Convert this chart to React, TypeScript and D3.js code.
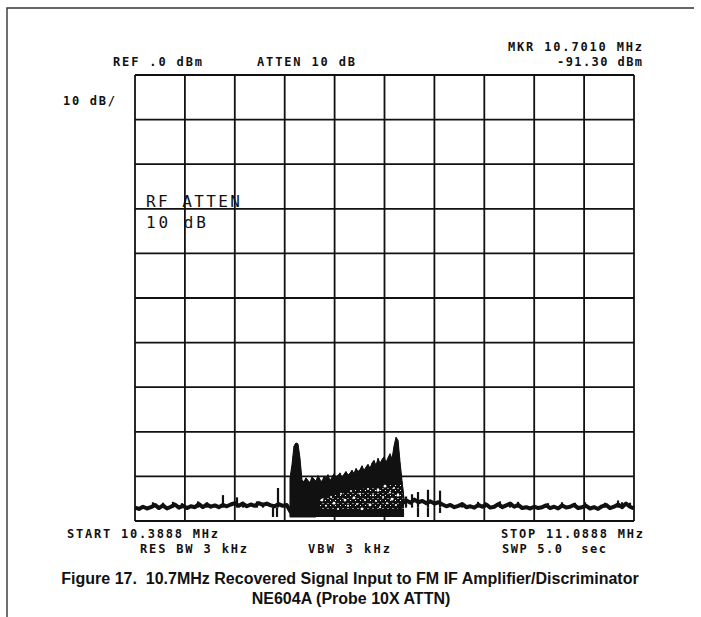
import React from 'react';
import * as d3 from 'd3';

// Sweep settings of the analyzer display
const START_MHZ = 10.3888;
const STOP_MHZ = 11.0888;
const REF_DBM = 0;
const DB_PER_DIV = 10;
const DIVISIONS = 10;

// Noise floor trace, uniformly spaced across the sweep (dBm)
const NOISE_DBM = [
  -97.0, -97.3, -96.8, -97.2, -96.9, -96.4, -97.1, -96.5, -97.2, -96.8,
  -96.3, -97.0, -96.6, -97.1, -96.7, -96.9, -96.2, -96.9, -96.3, -96.8,
  -96.5, -96.9, -96.4, -96.7, -96.3, -96.0, -96.6, -96.1, -96.7, -96.3,
  -96.6, -96.0, -96.4, -96.1, -96.5, -96.7, -96.2, -96.6, -96.4, -98.0,
  -98.0, -98.0, -98.0, -98.0, -98.0, -98.0, -98.0, -98.0, -98.0, -98.0,
  -98.0, -98.0, -98.0, -98.0, -98.0, -98.0, -98.0, -98.0, -98.0, -98.0,
  -98.0, -98.0, -98.0, -98.0, -98.0, -98.0, -98.0, -96.0, -95.4, -95.9,
  -95.2, -95.8, -95.5, -96.0, -95.6, -96.1, -95.8, -96.3, -96.7, -96.4,
  -96.9, -96.6, -96.2, -96.9, -96.7, -97.0, -96.4, -96.8, -96.3, -97.0,
  -96.8, -96.2, -96.9, -96.5, -96.1, -96.8, -96.4, -97.1, -96.9, -97.2,
  -96.8, -97.1, -96.9, -96.5, -97.1, -96.8, -97.2, -96.5, -97.0, -96.8,
  -96.4, -97.1, -96.9, -96.6, -97.2, -96.9, -97.3, -96.7, -96.4, -97.1,
  -96.8, -96.3, -96.9, -96.1, -96.8, -97.2,
];
const NOISE_LEVEL_DBM = -97.0;

// Narrow glitches on the trace: [MHz, dBm]
const NOISE_SPIKES: [number, number][] = [
  [10.4140, -95.8], [10.4281, -95.9], [10.4421, -95.7], [10.4547, -96.0],
  [10.4772, -95.6], [10.4898, -95.8], [10.5122, -94.2], [10.5319, -94.7],
  [10.5403, -95.7], [10.5599, -95.6], [10.5684, -95.9],
  [10.5824, -99.1], [10.5880, -99.1], [10.5894, -92.6],
  [10.7690, -94.5], [10.7774, -94.0],
  [10.7858, -93.5], [10.7858, -99.1],
  [10.7998, -93.0], [10.7998, -99.1],
  [10.8167, -93.2], [10.8167, -98.2],
  [10.8475, -95.9], [10.8700, -95.7], [10.8798, -95.8], [10.9008, -95.6],
  [10.9149, -95.9], [10.9261, -95.7], [10.9682, -96.0], [10.9878, -95.8],
  [11.0060, -95.9], [11.0201, -95.8], [11.0481, -95.9], [11.0664, -95.4],
  [11.0720, -95.8], [11.0832, -95.9],
];

// Recovered FM signal: max-hold envelope over the occupied band (dBm)
const SIGNAL_START_MHZ = 10.6062;
const SIGNAL_STOP_MHZ = 10.7662;
const SIGNAL_TOP_DBM = [
  -90.4, -87.4, -83.2, -82.5, -82.7, -85.9, -90.8, -91.2, -90.3, -90.9,
  -91.4, -90.1, -90.6, -91.1, -89.8, -90.7, -91.2, -90.0, -90.4, -89.6,
  -91.0, -90.2, -89.4, -90.1, -89.8, -89.2, -90.3, -89.5, -88.9, -89.7,
  -89.3, -88.6, -89.4, -88.2, -88.9, -88.5, -87.6, -88.7, -87.9, -87.3,
  -88.2, -87.0, -86.4, -87.6, -85.9, -87.1, -86.2, -85.6, -86.9, -85.8,
  -84.9, -86.1, -83.2, -81.2, -81.9, -86.7, -91.0, -95.3,
];
// Lower edge of the solid part of the band; below it the sweeps thin out
const SIGNAL_SOLID_DBM = [
  -99.1, -99.1, -99.1, -99.1, -99.1, -99.1, -99.1, -99.1, -99.1, -99.1,
  -99.1, -99.1, -99.1, -99.1, -98.0, -95.2, -94.8, -94.6, -94.9, -94.3,
  -94.5, -94.0, -94.4, -93.8, -94.1, -93.6, -93.9, -93.4, -93.7, -93.2,
  -93.5, -93.0, -93.3, -92.8, -93.1, -92.7, -92.9, -92.5, -92.8, -92.4,
  -92.6, -92.2, -92.5, -92.1, -92.4, -92.0, -92.3, -91.9, -92.2, -91.8,
  -91.9, -91.6, -91.8, -91.5, -91.7, -91.4, -91.2, -95.3,
];
const SIGNAL_FLOOR_DBM = -99.1;
const SIGNAL_BAR_DBM = -98.0;

// Larger gaps left inside the signal band: [MHz, dBm]
const SIGNAL_GAPS: [number, number][] = [
  [10.6511, -95.3], [10.6567, -96.6], [10.6638, -94.6], [10.6680, -96.0],
  [10.6736, -97.3], [10.6778, -93.9], [10.6834, -95.3], [10.6876, -96.6],
  [10.6918, -93.3], [10.6960, -94.8], [10.7002, -96.2], [10.7044, -93.9],
  [10.7072, -97.3], [10.7114, -95.3], [10.7157, -92.8], [10.7185, -96.4],
  [10.7227, -94.2], [10.7269, -95.5], [10.7297, -93.1], [10.7325, -96.9],
  [10.7367, -94.6], [10.7395, -92.2], [10.7423, -96.0], [10.7465, -93.6],
  [10.7493, -95.1], [10.7521, -92.6], [10.7549, -96.4], [10.7577, -94.2],
];

const HEADER_LEFT = ['REF .0 dBm', 'ATTEN 10 dB'];
const HEADER_RIGHT = ['MKR 10.7010 MHz', '-91.30 dBm'];
const SCALE_LABEL = '10 dB/';
const ANNOTATION = ['RF ATTEN', '10 dB'];
const FOOTER_LEFT = ['START 10.3888 MHz', 'RES BW 3 kHz', 'VBW 3 kHz'];
const FOOTER_RIGHT = ['STOP 11.0888 MHz', 'SWP 5.0  sec'];
const CAPTION = [
  'Figure 17.  10.7MHz Recovered Signal Input to FM IF Amplifier/Discriminator',
  'NE604A (Probe 10X ATTN)',
];

const INK = '#111';
const MONO = '"DejaVu Sans Mono", "Liberation Mono", monospace';

function Mono({ x, y, len, children, bold = true, size = 12, anchor = 'start' }: any) {
  return (
    <text
      x={x}
      y={y}
      textLength={len}
      lengthAdjust="spacing"
      textAnchor={anchor}
      fontFamily={MONO}
      fontWeight={bold ? 700 : 400}
      fontSize={size}
      fill={INK}
      style={{ whiteSpace: 'pre' }}
    >
      {children}
    </text>
  );
}

export default function App() {
  const W = 701;
  const H = 617;
  const left = 135;
  const right = 634;
  const top = 75;
  const bottom = 521;

  const x = d3.scaleLinear().domain([START_MHZ, STOP_MHZ]).range([left, right]);
  const y = d3
    .scaleLinear()
    .domain([REF_DBM - DB_PER_DIV * DIVISIONS, REF_DBM])
    .range([bottom, top]);

  const freqDivs = d3.range(DIVISIONS + 1).map(
    (i) => START_MHZ + (i * (STOP_MHZ - START_MHZ)) / DIVISIONS
  );
  const ampDivs = d3.range(DIVISIONS + 1).map((i) => REF_DBM - i * DB_PER_DIV);

  const noiseFreq = d3
    .scaleLinear()
    .domain([0, NOISE_DBM.length - 1])
    .range([START_MHZ, STOP_MHZ]);
  const noiseLine = d3
    .line<number>()
    .x((_, i) => x(noiseFreq(i)))
    .y((d) => y(d));

  const sigFreq = d3
    .scaleLinear()
    .domain([0, SIGNAL_TOP_DBM.length - 1])
    .range([SIGNAL_START_MHZ, SIGNAL_STOP_MHZ]);
  const solidArea = d3
    .area<number>()
    .x((_, i) => x(sigFreq(i)))
    .y0((_, i) => y(SIGNAL_SOLID_DBM[i]))
    .y1((d) => y(d));
  const sparseArea = d3
    .area<number>()
    .x((_, i) => x(sigFreq(i)))
    .y0(y(SIGNAL_FLOOR_DBM))
    .y1((d) => y(d));
  const barArea = d3
    .area<number>()
    .x((_, i) => x(sigFreq(i)))
    .y0(y(SIGNAL_FLOOR_DBM))
    .y1(y(SIGNAL_BAR_DBM));

  return (
    <svg
      width={W}
      height={H}
      viewBox={`0 0 ${W} ${H}`}
      style={{ position: 'absolute', left: 0, top: 0, background: '#fff' }}
    >
      <defs>
        <pattern id="sweeps" width={5} height={5} patternUnits="userSpaceOnUse">
          <rect width={5} height={5} fill={INK} />
          <rect x={0} y={0} width={1} height={1} fill="#fff" />
          <rect x={2.5} y={3} width={1} height={1} fill="#fff" />
        </pattern>
      </defs>
      <rect width={W} height={H} fill="#fff" />

      {/* page frame */}
      <path d={`M7,${H} V8 H694`} fill="none" stroke="#333" strokeWidth={1.4} />

      {/* graticule */}
      <g stroke={INK} strokeWidth={1.8} fill="none">
        {freqDivs.map((f, i) => (
          <line key={`v${i}`} x1={x(f)} x2={x(f)} y1={top} y2={bottom} />
        ))}
        {ampDivs.map((a, i) => (
          <line key={`h${i}`} x1={left} x2={right} y1={y(a)} y2={y(a)} />
        ))}
      </g>

      {/* signal band */}
      <path d={sparseArea(SIGNAL_TOP_DBM) || ''} fill="url(#sweeps)" />
      <path d={solidArea(SIGNAL_TOP_DBM) || ''} fill={INK} stroke={INK} strokeWidth={1} />
      <path d={barArea(SIGNAL_TOP_DBM) || ''} fill={INK} />
      <g fill="#fff">
        {SIGNAL_GAPS.map(([f, a], i) => (
          <circle key={i} cx={x(f)} cy={y(a)} r={i % 3 === 0 ? 1.4 : 1.0} />
        ))}
      </g>

      {/* noise trace */}
      <path
        d={noiseLine(NOISE_DBM) || ''}
        fill="none"
        stroke={INK}
        strokeWidth={4}
        strokeLinejoin="round"
      />
      <g stroke={INK} strokeWidth={2.2}>
        {NOISE_SPIKES.map(([f, a], i) => (
          <line key={i} x1={x(f)} x2={x(f)} y1={y(NOISE_LEVEL_DBM)} y2={y(a)} />
        ))}
      </g>

      {/* header annotations */}
      <Mono x={113} y={66} len={89}>{HEADER_LEFT[0]}</Mono>
      <Mono x={257} y={66} len={98}>{HEADER_LEFT[1]}</Mono>
      <Mono x={642} y={51} len={134} anchor="end">{HEADER_RIGHT[0]}</Mono>
      <Mono x={642} y={66} len={85} anchor="end">{HEADER_RIGHT[1]}</Mono>
      <Mono x={63} y={105} len={52}>{SCALE_LABEL}</Mono>

      <Mono x={146} y={207} len={94} bold={false} size={16}>{ANNOTATION[0]}</Mono>
      <Mono x={146} y={228} len={60} bold={false} size={16}>{ANNOTATION[1]}</Mono>

      {/* footer annotations */}
      <Mono x={67} y={538} len={151}>{FOOTER_LEFT[0]}</Mono>
      <Mono x={140} y={553} len={107}>{FOOTER_LEFT[1]}</Mono>
      <Mono x={308} y={553} len={82}>{FOOTER_LEFT[2]}</Mono>
      <Mono x={643} y={538} len={142} anchor="end">{FOOTER_RIGHT[0]}</Mono>
      <Mono x={502} y={553} len={104}>{FOOTER_RIGHT[1]}</Mono>

      {/* caption */}
      <g fontFamily='"Liberation Sans", Arial, sans-serif' fontWeight={700} fontSize={16} fill={INK}>
        <text x={350} y={584} textAnchor="middle" style={{ whiteSpace: 'pre' }}>
          {CAPTION[0]}
        </text>
        <text x={351} y={604} textAnchor="middle">
          {CAPTION[1]}
        </text>
      </g>
    </svg>
  );
}
